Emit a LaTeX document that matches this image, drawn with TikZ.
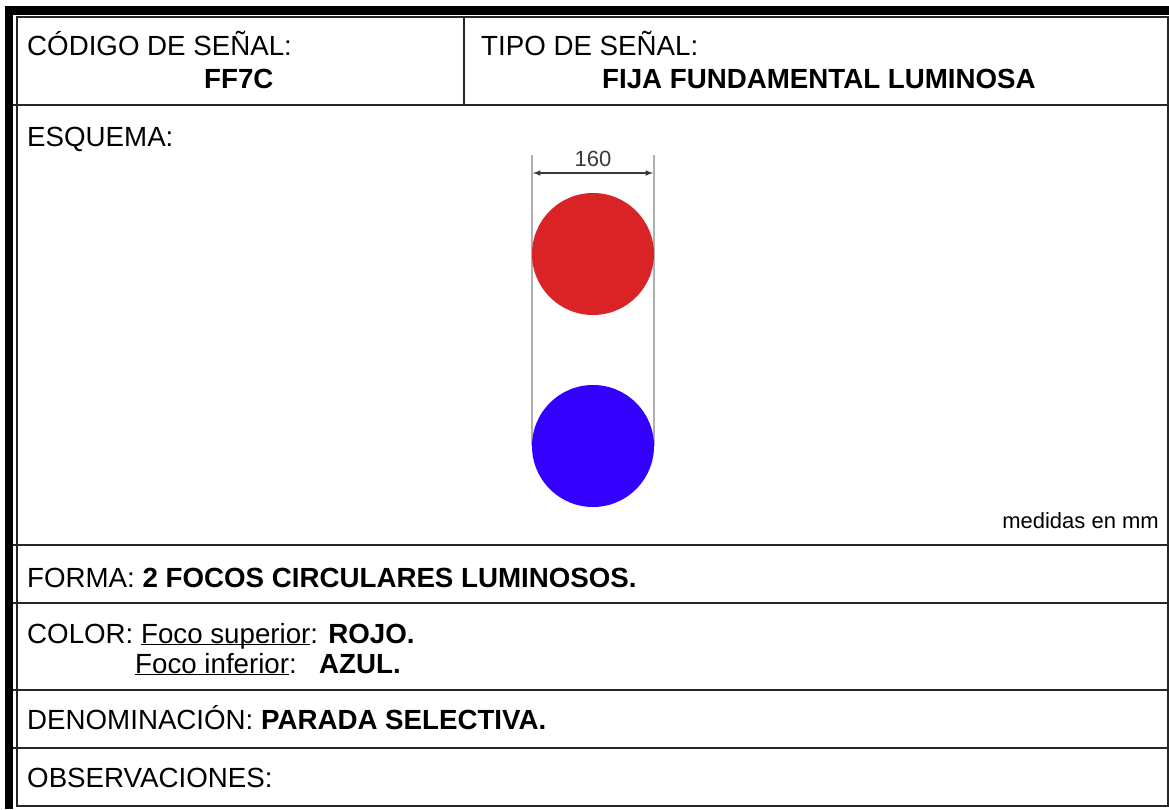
\documentclass[tikz,border=0pt]{standalone}
\usepackage{fontspec}
\setmainfont{Liberation Sans}
\usepackage{tikz}
\usetikzlibrary{arrows}
\definecolor{focorojo}{HTML}{D92327}
\definecolor{focoazul}{HTML}{3300FF}
\definecolor{cota}{HTML}{3A3A3A}
\definecolor{guia}{HTML}{B0B0B0}
\tikzset{
  texto/.style={anchor=base west, inner sep=0pt, font=\fontsize{27.7}{33}\selectfont},
  linea/.style={black!85, line width=1.6pt}
}

\begin{document}
\begin{tikzpicture}[x=1pt,y=-1pt]
\useasboundingbox (0,0) rectangle (1169,809);
\fill [black] (5,6) rectangle (13,809);
\fill [black] (5,6) rectangle (1169,15);
\draw [linea] (17,17) rectangle (1168,806);
\foreach \y in {105,545,603,690,748}
  \draw [linea] (13,\y) -- (1168,\y);
\draw [linea] (464,17) -- (464,105);

\node [texto] (codigo) at (27,55) {CÓDIGO DE SEÑAL:};
\node [texto, font=\fontsize{27.7}{33}\selectfont\bfseries] (codigoval) at (204,88) {FF7C};
\node [texto] (tipo) at (481,55) {TIPO DE SEÑAL:};
\node [texto, font=\fontsize{27.7}{33}\selectfont\bfseries] (tipoval) at (602,88) {FIJA FUNDAMENTAL LUMINOSA};
\node [texto] (esquema) at (27,146) {ESQUEMA:};

\draw [guia, line width=1.3pt] (532,155) -- (532,446);
\draw [guia, line width=1.3pt] (654,155) -- (654,446);
\fill [focorojo] (593,254) circle [radius=61];
\fill [focoazul] (593,446) circle [radius=61];
\coordinate (cotaizq) at (533,173);
\coordinate (cotader) at (653,173);
\draw [cota, line width=1.5pt, latex-latex] (cotaizq) -- (cotader);
\node [anchor=base, inner sep=0pt, cota, font=\fontsize{22}{26}\selectfont] (medida) at (593,166) {160};
\node [anchor=base east, inner sep=0pt, font=\fontsize{22}{26}\selectfont] (unidades) at (1159,528) {medidas en mm};

\node [texto] (forma) at (27,587) {FORMA: \textbf{2 FOCOS CIRCULARES LUMINOSOS.}};
\node [texto] (color) at (27,643) {COLOR: \underline{\smash{Foco superior}}: \textbf{ROJO.}};
\node [texto] (colorinf) at (135,673) {\underline{\smash{Foco inferior}}:};
\node [texto, font=\fontsize{27.7}{33}\selectfont\bfseries] (colorinfval) at (319,673) {AZUL.};
\node [texto] (denom) at (27,729) {DENOMINACIÓN: \textbf{PARADA SELECTIVA.}};
\node [texto] (obs) at (27,787) {OBSERVACIONES:};
\end{tikzpicture}
\end{document}
